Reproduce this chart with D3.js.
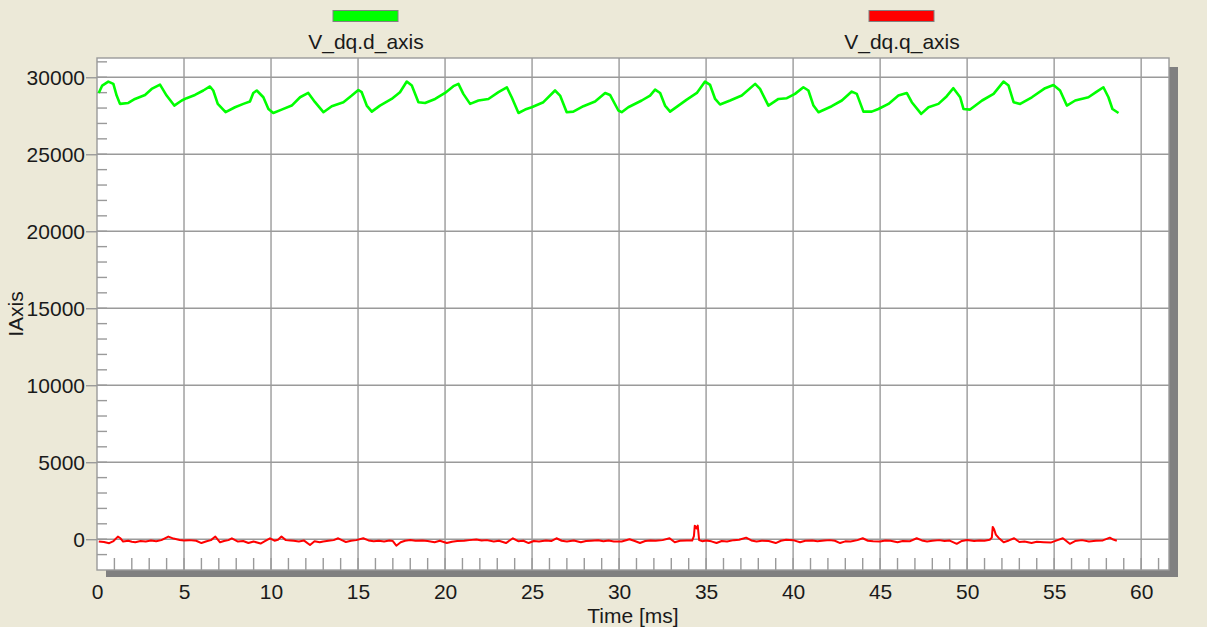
<!DOCTYPE html>
<html>
<head>
<meta charset="utf-8">
<script src="https://cdn.jsdelivr.net/npm/d3@7"></script>
<style>
  html, body { margin: 0; padding: 0; background: #ECE9D8; }
  svg { display: block; font-family: "Liberation Sans", Arial, sans-serif; }
</style>
</head>
<body>
<svg id="chart" width="1207" height="627"></svg>
<script>
// V_dq.d_axis samples: time [ms] and value
const dTime = [0.1,0.3,0.65,0.94,1.13,1.32,1.8,2.18,2.76,3.14,3.62,4.0,4.44,4.87,5.15,5.63,6.11,6.49,6.68,6.94,
  7.39,7.93,8.41,8.79,8.98,9.18,9.56,9.85,10.13,10.61,11.19,11.67,12.14,12.53,13.01,13.49,14.16,14.64,15.02,15.21,
  15.5,15.79,16.26,16.93,17.41,17.8,18.09,18.47,18.85,19.43,20.0,20.48,20.77,21.05,21.44,21.92,22.49,23.07,23.55,23.83,
  24.22,24.6,24.98,25.65,26.32,26.61,26.99,27.37,27.95,28.62,29.2,29.48,29.96,30.15,30.53,31.3,31.78,32.07,32.36,32.64,
  32.93,33.41,33.89,34.47,34.94,35.23,35.52,35.8,36.38,37.05,37.82,38.1,38.58,39.16,39.64,40.11,40.59,40.88,41.17,41.46,
  42.22,42.8,43.37,43.66,44.04,44.52,44.9,45.48,46.05,46.53,46.82,47.36,47.78,48.35,48.83,49.21,49.6,49.79,50.17,50.86,
  51.52,52.09,52.38,52.67,53.05,53.72,54.48,54.96,55.34,55.73,56.21,56.97,57.45,57.83,58.12,58.35,58.7];
const dValue = [28980,29460,29720,29570,28810,28270,28330,28590,28850,29240,29520,28810,28160,28490,28640,28850,29140,29400,29140,28270,
  27730,28050,28270,28420,28980,29140,28700,27940,27680,27900,28160,28700,28980,28380,27730,28120,28380,28810,29170,29030,
  28160,27770,28160,28590,29030,29720,29460,28380,28330,28590,28980,29420,29570,28920,28270,28490,28590,29030,29350,28700,
  27680,27900,28050,28380,29140,28810,27730,27770,28120,28420,28980,28850,27840,27730,28050,28490,28810,29200,28980,28160,
  27770,28160,28550,28980,29720,29500,28590,28230,28490,28810,29570,29240,28160,28590,28640,28920,29350,29140,28160,27730,
  28120,28490,29070,28920,27770,27770,27940,28270,28810,28980,28380,27620,28050,28270,28770,29290,28700,27940,27900,28490,
  28920,29720,29460,28380,28270,28700,29290,29500,29140,28160,28490,28700,29070,29350,28700,27940,27680];

// V_dq.q_axis samples: time [ms] and value
const qTime = [0.1,0.4,0.7,0.95,1.2,1.35,1.5,1.8,2.0,2.2,2.5,2.8,3.1,3.4,3.7,4.1,4.4,4.75,5.0,5.3,
  5.7,6.0,6.3,6.55,6.8,7.07,7.3,7.55,7.75,8.1,8.4,8.7,9.0,9.4,9.65,9.94,10.2,10.4,10.6,10.85,
  11.1,11.3,11.6,11.9,12.24,12.5,12.8,13.0,13.3,13.6,13.86,14.1,14.3,14.6,14.9,15.3,15.6,15.9,16.2,16.5,
  16.8,17.0,17.2,17.45,17.7,18.0,18.3,18.7,19.0,19.4,19.7,20.1,20.4,20.7,21.1,21.4,21.8,22.1,22.4,22.8,
  23.1,23.5,23.9,24.2,24.5,24.8,25.1,25.4,25.8,26.1,26.4,26.7,27.0,27.4,27.8,28.1,28.4,28.8,29.1,29.4,
  29.7,30.15,30.6,30.9,31.2,31.5,31.8,32.1,32.5,32.9,33.2,33.5,33.9,34.2,34.3,34.35,34.45,34.52,34.6,34.8,
  35.0,35.3,35.6,35.9,36.2,36.6,36.9,37.3,37.6,37.9,38.2,38.6,39.0,39.3,39.6,40.0,40.4,40.7,41.1,41.4,
  41.8,42.1,42.4,42.7,43.0,43.3,43.7,44.0,44.3,44.6,45.0,45.3,45.6,46.0,46.3,46.7,47.1,47.4,47.7,48.0,
  48.4,48.7,49.0,49.4,49.7,50.0,50.4,50.7,51.0,51.3,51.42,51.47,51.55,51.65,51.8,52.1,52.4,52.7,53.0,53.3,
  53.7,54.0,54.4,54.8,55.2,55.5,55.9,56.2,56.6,57.0,57.4,57.8,58.2,58.4,58.6];
const qValue = [-150,-180,-260,-120,170,60,-150,-100,-170,-200,-120,-150,-90,-130,-60,170,40,-50,-80,-60,
  -100,-250,-130,-60,170,-200,-120,-60,60,-150,-120,-250,-150,-280,-120,60,-100,-40,170,-60,
  -80,-100,-150,-90,-380,-130,-200,-150,-100,-60,60,-80,-180,-100,-60,60,-80,-130,-100,-150,
  -90,-120,-420,-200,-100,-50,-100,-80,-120,-200,-100,-250,-160,-120,-100,-60,-20,-90,-60,-150,
  -100,-250,60,-130,-100,-250,-120,-150,-90,-120,60,-100,-150,-80,-200,-120,-100,-70,-130,-90,
  -150,-150,0,-120,-250,-120,-80,-100,-60,60,-200,-100,-80,-90,200,880,700,880,-60,-130,
  -90,-140,-250,-120,-150,-60,-40,100,-80,-150,-100,-120,-250,-100,-40,-60,-200,-100,-80,-130,
  -90,-60,-100,-250,-140,-150,-60,60,-100,-130,-150,-90,-100,-200,-120,-140,60,-80,-150,-100,
  -60,-110,-90,-300,-110,-50,-110,-80,-100,-40,100,800,650,300,100,-200,-80,60,-180,-150,
  -250,-170,-200,-220,-60,60,-300,-120,-60,-150,-100,-80,100,-20,-100];

const seriesNames = ["V_dq.d_axis", "V_dq.q_axis"];
const seriesColors = ["#00FF00", "#FF0000"];
const xTicks = d3.range(0, 61, 5);
const yTicks = [0, 5000, 10000, 15000, 20000, 25000, 30000];
const xLabel = "Time [ms]";
const yLabel = "IAxis";

const svg = d3.select("#chart");
const plot = { left: 97, top: 58, right: 1169, bottom: 570 };
const x = d3.scaleLinear().domain([0, 61.6]).range([plot.left, plot.right]);
const y = d3.scaleLinear().domain([-2000, 31250]).range([plot.bottom, plot.top]);

const gridColor = "#9a9a9a";
const textColor = "#1a1a1a";

// drop shadow of the plot frame
svg.append("rect").attr("x", plot.left + 9).attr("y", plot.bottom)
  .attr("width", plot.right - plot.left).attr("height", 7).attr("fill", "#808080");
svg.append("rect").attr("x", plot.right).attr("y", plot.top + 9)
  .attr("width", 9).attr("height", plot.bottom - plot.top - 2).attr("fill", "#808080");

// plot background
svg.append("rect").attr("x", plot.left).attr("y", plot.top)
  .attr("width", plot.right - plot.left).attr("height", plot.bottom - plot.top)
  .attr("fill", "#ffffff");

// grid
const grid = svg.append("g").attr("stroke", gridColor).attr("stroke-width", 1.4);
grid.selectAll("line.v").data(xTicks.filter(d => d > 0)).join("line")
  .attr("x1", d => x(d)).attr("x2", d => x(d))
  .attr("y1", plot.top).attr("y2", plot.bottom);
grid.selectAll("line.h").data(yTicks).join("line")
  .attr("x1", plot.left).attr("x2", plot.right)
  .attr("y1", d => y(d)).attr("y2", d => y(d));

// minor ticks inside the frame
const minor = svg.append("g").attr("stroke", gridColor).attr("stroke-width", 1.4);
minor.selectAll("line.mx").data(d3.range(1, 62)).join("line")
  .attr("x1", d => x(d)).attr("x2", d => x(d))
  .attr("y1", plot.bottom - 12).attr("y2", plot.bottom);
minor.selectAll("line.my").data(d3.range(-1000, 31001, 1000)).join("line")
  .attr("x1", plot.left).attr("x2", plot.left + 10)
  .attr("y1", d => y(d)).attr("y2", d => y(d));

// frame
svg.append("rect").attr("x", plot.left).attr("y", plot.top)
  .attr("width", plot.right - plot.left).attr("height", plot.bottom - plot.top)
  .attr("fill", "none").attr("stroke", gridColor).attr("stroke-width", 1.4);

// y axis: outward major ticks and labels
const yAxis = d3.axisLeft(y).tickValues(yTicks).tickSize(11).tickPadding(1).tickFormat(d3.format("d"));
const gy = svg.append("g").attr("transform", `translate(${plot.left},0)`).call(yAxis);
gy.select(".domain").remove();
gy.selectAll(".tick line").attr("stroke", gridColor).attr("stroke-width", 1.4);
gy.selectAll(".tick text").attr("fill", textColor).attr("font-size", 21)
  .attr("font-family", "Liberation Sans, Arial, sans-serif").attr("dy", "0.36em");

// x axis labels
const xAxis = d3.axisBottom(x).tickValues(xTicks).tickSize(0).tickPadding(14).tickFormat(d3.format("d"));
const gx = svg.append("g").attr("transform", `translate(0,${plot.bottom})`).call(xAxis);
gx.select(".domain").remove();
gx.selectAll(".tick text").attr("fill", textColor).attr("font-size", 21)
  .attr("font-family", "Liberation Sans, Arial, sans-serif");

// axis titles
svg.append("text").attr("x", (plot.left + plot.right) / 2).attr("y", 622.5)
  .attr("text-anchor", "middle").attr("font-size", 21).attr("fill", textColor).text(xLabel);
svg.append("text").attr("transform", `translate(23,${(plot.top + plot.bottom) / 2}) rotate(-90)`)
  .attr("text-anchor", "middle").attr("font-size", 21).attr("fill", textColor).text(yLabel);

// series lines
const line = d3.line().x(d => x(d[0])).y(d => y(d[1]));
svg.append("clipPath").attr("id", "plotClip").append("rect")
  .attr("x", plot.left).attr("y", plot.top)
  .attr("width", plot.right - plot.left).attr("height", plot.bottom - plot.top);
const dData = d3.zip(dTime, dValue);
const qData = d3.zip(qTime, qValue);
svg.append("path").datum(qData).attr("clip-path", "url(#plotClip)")
  .attr("d", line).attr("fill", "none").attr("stroke", seriesColors[1])
  .attr("stroke-width", 2).attr("stroke-linejoin", "round");
svg.append("path").datum(dData).attr("clip-path", "url(#plotClip)")
  .attr("d", line).attr("fill", "none").attr("stroke", seriesColors[0])
  .attr("stroke-width", 2.6).attr("stroke-linejoin", "round");

// legend
const legendX = [366, 902];
const legend = svg.append("g");
legend.selectAll("rect").data(seriesNames).join("rect")
  .attr("x", (d, i) => legendX[i] - 33).attr("y", 10.5)
  .attr("width", 65).attr("height", 11)
  .attr("fill", (d, i) => seriesColors[i]).attr("stroke", "#808080").attr("stroke-width", 1);
legend.selectAll("text").data(seriesNames).join("text")
  .attr("x", (d, i) => legendX[i]).attr("y", 49)
  .attr("text-anchor", "middle").attr("font-size", 21).attr("fill", textColor)
  .text(d => d);
</script>
</body>
</html>
